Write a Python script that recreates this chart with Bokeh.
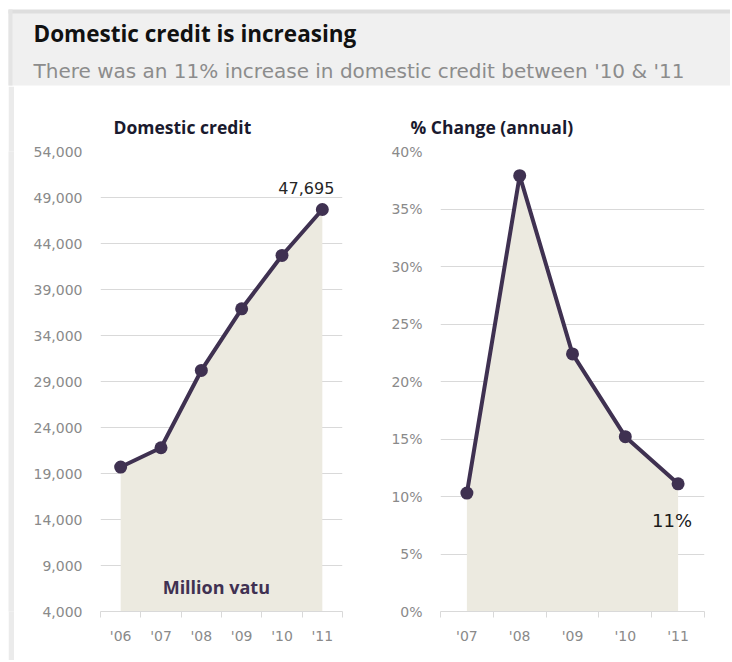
from bokeh.plotting import figure
from bokeh.layouts import column, row
from bokeh.models import Range1d, FixedTicker, NumeralTickFormatter, Spacer
from bokeh.core.properties import value
from bokeh.embed import file_html
from bokeh.resources import INLINE

# ---- data ----
title_text = "Domestic credit is increasing"
subtitle_text = "There was an 11% increase in domestic credit between '10 & '11"
left_title = "Domestic credit"
right_title = "% Change  (annual)"
unit_note = "Million vatu"

years_credit = ["'06", "'07", "'08", "'09", "'10", "'11"]
credit = [19700, 21800, 30200, 36900, 42700, 47695]
credit_ticks = [4000, 9000, 14000, 19000, 24000, 29000, 34000, 39000, 44000, 49000, 54000]

years_change = ["'07", "'08", "'09", "'10", "'11"]
pct_change = [0.103, 0.379, 0.224, 0.152, 0.111]
pct_ticks = [0.0, 0.05, 0.10, 0.15, 0.20, 0.25, 0.30, 0.35, 0.40]

# ---- style ----
TFONT = "Open Sans"
WFONT = "DejaVu Sans"
LINE = "#3F3151"
FILL = "#ECEAE0"
GRID = "#D9D9D9"
TICK_TXT = "#8A8A8A"
CH = 574  # chart row height


def make_chart(cats, vals, yticks, fmt, width, height, bl, br, bt, bb, title, title_offset):
    n = len(cats)
    xs = [i + 0.5 for i in range(n)]
    p = figure(width=width, height=height, x_range=Range1d(0, n),
               y_range=Range1d(yticks[0], yticks[-1]),
               toolbar_location=None, output_backend="svg",
               min_border_left=bl, min_border_right=br,
               min_border_top=bt, min_border_bottom=bb,
               outline_line_color=None, background_fill_color="white",
               border_fill_color="white")
    p.title.text = title
    p.title.align = "left"
    p.title.offset = title_offset
    p.title.standoff = 26
    p.title.text_font = TFONT
    p.title.text_font_size = "17.5px"
    p.title.text_font_style = "bold"
    p.title.text_color = "#1A1A2E"

    p.xgrid.visible = False
    p.ygrid.grid_line_color = GRID
    p.ygrid.grid_line_width = 1

    xa = p.xaxis[0]
    xa.ticker = FixedTicker(ticks=xs, minor_ticks=list(range(n + 1)))
    xa.major_label_overrides = {x: c for x, c in zip(xs, cats)}
    xa.axis_line_color = GRID
    xa.major_tick_line_color = None
    xa.major_tick_out = 0
    xa.major_tick_in = 0
    xa.minor_tick_line_color = GRID
    xa.minor_tick_out = 6
    xa.minor_tick_in = 0
    xa.major_label_text_font = WFONT
    xa.major_label_text_font_size = "14px"
    xa.major_label_text_color = TICK_TXT
    xa.major_label_standoff = 10

    ya = p.yaxis[0]
    ya.ticker = FixedTicker(ticks=yticks)
    ya.formatter = NumeralTickFormatter(format=fmt)
    ya.axis_line_color = None
    ya.major_tick_line_color = None
    ya.minor_tick_line_color = None
    ya.major_tick_out = 0
    ya.major_tick_in = 0
    ya.major_label_text_font = WFONT
    ya.major_label_text_font_size = "14px"
    ya.major_label_text_color = TICK_TXT
    ya.major_label_standoff = 18

    p.varea(x=xs, y1=[yticks[0]] * n, y2=vals, fill_color=FILL)
    p.line(xs, vals, line_color=LINE, line_width=4)
    p.scatter(xs, vals, size=13, fill_color=LINE, line_color=None)
    return p, xs


# header
HW = 730
hdr = figure(width=HW, height=86, x_range=Range1d(0, HW), y_range=Range1d(86, 0),
             toolbar_location=None, output_backend="svg", min_border=0,
             x_axis_location=None, y_axis_location=None,
             outline_line_color=None, background_fill_color="white",
             border_fill_color="white")
hdr.grid.visible = False
hdr.quad(left=8, right=HW, top=10, bottom=85, fill_color="#F0F0F0", line_color=None)
hdr.quad(left=8, right=HW, top=9, bottom=13, fill_color="#DEDEDE", line_color=None)
hdr.quad(left=8, right=12, top=9, bottom=85, fill_color="#E4E4E4", line_color=None)
hdr.text(x=[33], y=[33], text=[title_text], text_font=value(TFONT),
         text_font_size="22.5px", text_font_style="bold", text_color="#111111",
         text_baseline="middle")
hdr.text(x=[33], y=[70], text=[subtitle_text], text_font=value(WFONT),
         text_font_size="20px", text_color="#8C8C8C", text_baseline="middle")

# left shadow strip
gap = Spacer(width=8, height=CH)
strip = figure(width=6, height=CH, toolbar_location=None, output_backend="svg",
               min_border=0, x_axis_location=None, y_axis_location=None,
               outline_line_color=None, background_fill_color="#EBEBEB",
               border_fill_color="#EBEBEB")
strip.grid.visible = False

left, lx = make_chart(years_credit, credit, credit_ticks, "0,0", 356, CH,
                      86, 28, 63, 49, left_title, 13)
left.text(x=[lx[-1]], y=[credit[-1]], text=[f"{credit[-1]:,}"],
          x_offset=12, y_offset=-16, text_align="right", text_baseline="bottom",
          text_font=value(WFONT), text_font_size="16px", text_color="#262626")
left.text(x=[lx[2]], y=[6700], text=[unit_note], x_offset=15,
          text_align="center", text_baseline="middle", text_font=value(TFONT),
          text_font_size="18px", text_font_style="bold", text_color="#403152")

right, rx = make_chart(years_change, pct_change, pct_ticks, "0%", 360, CH,
                       70, 26, 65, 47, right_title, -30)
right.text(x=[rx[-1]], y=[pct_change[-1]], text=[f"{round(pct_change[-1] * 100)}%"],
           x_offset=14, y_offset=37, text_align="right", text_baseline="middle",
           text_font=value(WFONT), text_font_size="18px", text_color="#1A1A1A")

layout = column(hdr, row(gap, strip, left, right))
open("out.html", "w").write(file_html(layout, INLINE))
